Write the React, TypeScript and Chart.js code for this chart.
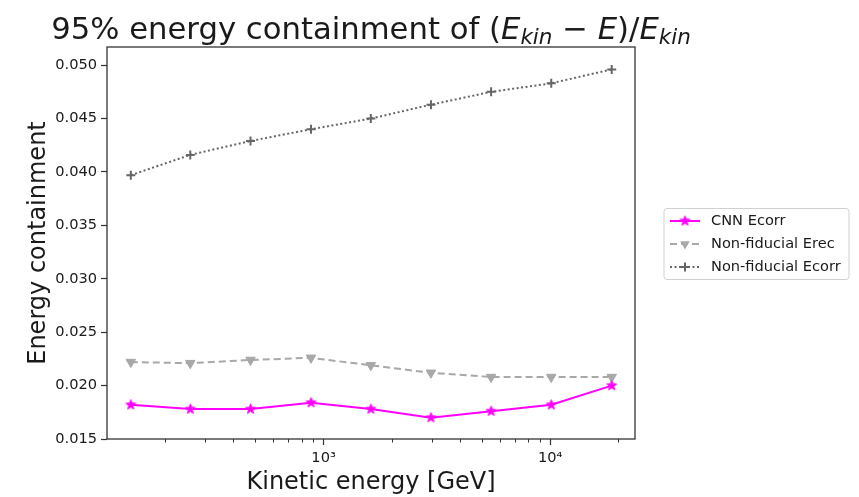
import React, { useEffect, useRef } from 'react';
import { Chart, registerables } from 'chart.js';

Chart.register(...registerables);

// Kinetic energy bin centres [GeV]
const energies = [141, 258, 476, 880, 1616, 2978, 5487, 10109, 18693];

// 95% containment of (E_kin - E)/E_kin for each reconstruction
const cnnEcorr = [0.0182, 0.0178, 0.0178, 0.0184, 0.0178, 0.0170, 0.0176, 0.0182, 0.0200];
const nonFiducialErec = [0.0222, 0.0221, 0.0224, 0.0226, 0.0219, 0.0212, 0.0208, 0.0208, 0.0208];
const nonFiducialEcorr = [0.0397, 0.0416, 0.0429, 0.0440, 0.0450, 0.0463, 0.0475, 0.0483, 0.0496];

const seriesLabels = ['CNN Ecorr', 'Non-fiducial Erec', 'Non-fiducial Ecorr'];

const yTicks = [0.015, 0.020, 0.025, 0.030, 0.035, 0.040, 0.045, 0.050];
const xMajorTicks = [1000, 10000];
const xMajorLabels = ['10³', '10⁴'];
const xMinorTicks = [200, 300, 400, 500, 600, 700, 800, 900, 2000, 3000, 4000, 5000, 6000, 7000, 8000, 9000, 20000];

const FONT = '"DejaVu Sans", "Liberation Sans", sans-serif';
const TEXT = '#1a1a1a';
const AXIS = '#333333';
const MAGENTA = '#ff00ff';
const LIGHT_GREY = '#a8a8a8';
const DARK_GREY = '#666666';

function makeStar(color: string, outer: number): HTMLCanvasElement {
  const inner = outer * 0.42;
  const size = Math.ceil(outer * 2 + 2);
  const c = document.createElement('canvas');
  c.width = size;
  c.height = size;
  const ctx = c.getContext('2d')!;
  const cx = size / 2;
  const cy = size / 2;
  ctx.beginPath();
  for (let i = 0; i < 10; i++) {
    const r = i % 2 === 0 ? outer : inner;
    const a = -Math.PI / 2 + (i * Math.PI) / 5;
    const px = cx + r * Math.cos(a);
    const py = cy + r * Math.sin(a);
    if (i === 0) ctx.moveTo(px, py);
    else ctx.lineTo(px, py);
  }
  ctx.closePath();
  ctx.fillStyle = color;
  ctx.fill();
  ctx.strokeStyle = color;
  ctx.lineWidth = 1;
  ctx.stroke();
  return c;
}

export default function App() {
  const canvasRef = useRef<HTMLCanvasElement | null>(null);

  useEffect(() => {
    const canvas = canvasRef.current;
    if (!canvas) return;
    const star = makeStar(MAGENTA, 5.2);

    const decor = {
      id: 'decor',
      afterDraw(chart: any) {
        const { ctx, chartArea } = chart;
        const { left, right, top, bottom } = chartArea;
        const xScale = chart.scales.x;
        ctx.save();

        // minor ticks on the log axis
        ctx.strokeStyle = AXIS;
        ctx.lineWidth = 1;
        for (const v of xMinorTicks) {
          const px = Math.round(xScale.getPixelForValue(v)) + 0.5;
          ctx.beginPath();
          ctx.moveTo(px, bottom);
          ctx.lineTo(px, bottom + 3.5);
          ctx.stroke();
        }

        // frame
        ctx.strokeStyle = AXIS;
        ctx.lineWidth = 1.3;
        ctx.strokeRect(left, top, right - left, bottom - top);

        // title with mathematical part
        const big = 30.7;
        const small = 21.5;
        const parts = [
          { t: '95% energy containment of (', f: `${big}px ${FONT}`, dy: 0 },
          { t: 'E', f: `italic ${big}px ${FONT}`, dy: 0 },
          { t: 'kin', f: `italic ${small}px ${FONT}`, dy: 5 },
          { t: ' − ', f: `${big}px ${FONT}`, dy: 0 },
          { t: 'E', f: `italic ${big}px ${FONT}`, dy: 0 },
          { t: ')/', f: `${big}px ${FONT}`, dy: 0 },
          { t: 'E', f: `italic ${big}px ${FONT}`, dy: 0 },
          { t: 'kin', f: `italic ${small}px ${FONT}`, dy: 5 },
        ];
        let total = 0;
        const widths = parts.map((p) => {
          ctx.font = p.f;
          const w = ctx.measureText(p.t).width;
          total += w;
          return w;
        });
        let tx = (left + right) / 2 - total / 2;
        const baseline = 38.5;
        ctx.fillStyle = TEXT;
        ctx.textBaseline = 'alphabetic';
        ctx.textAlign = 'left';
        parts.forEach((p, i) => {
          ctx.font = p.f;
          ctx.fillText(p.t, tx, baseline + p.dy);
          tx += widths[i];
        });

        // legend
        const lx = 664;
        const ly = 208.5;
        const lw = 185;
        const lh = 71;
        ctx.beginPath();
        const r = 3;
        ctx.moveTo(lx + r, ly);
        ctx.arcTo(lx + lw, ly, lx + lw, ly + lh, r);
        ctx.arcTo(lx + lw, ly + lh, lx, ly + lh, r);
        ctx.arcTo(lx, ly + lh, lx, ly, r);
        ctx.arcTo(lx, ly, lx + lw, ly, r);
        ctx.closePath();
        ctx.fillStyle = 'rgba(255,255,255,0.8)';
        ctx.fill();
        ctx.strokeStyle = '#d0d0d0';
        ctx.lineWidth = 1;
        ctx.stroke();

        const rows = [221, 244, 267];
        const hx0 = 670;
        const hx1 = 700;
        const hm = 685;
        // CNN Ecorr
        ctx.setLineDash([]);
        ctx.strokeStyle = MAGENTA;
        ctx.lineWidth = 2;
        ctx.beginPath();
        ctx.moveTo(hx0, rows[0]);
        ctx.lineTo(hx1, rows[0]);
        ctx.stroke();
        ctx.drawImage(star, hm - star.width / 2, rows[0] - star.height / 2);
        // Non-fiducial Erec
        ctx.strokeStyle = LIGHT_GREY;
        ctx.setLineDash([7, 4]);
        ctx.beginPath();
        ctx.moveTo(hx0, rows[1]);
        ctx.lineTo(hx1, rows[1]);
        ctx.stroke();
        ctx.setLineDash([]);
        ctx.fillStyle = LIGHT_GREY;
        ctx.beginPath();
        ctx.moveTo(hm - 4.7, rows[1] - 2.7);
        ctx.lineTo(hm + 4.7, rows[1] - 2.7);
        ctx.lineTo(hm, rows[1] + 5.4);
        ctx.closePath();
        ctx.fill();
        // Non-fiducial Ecorr
        ctx.strokeStyle = DARK_GREY;
        ctx.setLineDash([2, 2.5]);
        ctx.beginPath();
        ctx.moveTo(hx0, rows[2]);
        ctx.lineTo(hx1, rows[2]);
        ctx.stroke();
        ctx.setLineDash([]);
        ctx.beginPath();
        ctx.moveTo(hm - 4.5, rows[2]);
        ctx.lineTo(hm + 4.5, rows[2]);
        ctx.moveTo(hm, rows[2] - 4.5);
        ctx.lineTo(hm, rows[2] + 4.5);
        ctx.stroke();

        ctx.fillStyle = TEXT;
        ctx.font = `14.6px ${FONT}`;
        ctx.textBaseline = 'middle';
        seriesLabels.forEach((s, i) => ctx.fillText(s, 711, rows[i]));

        ctx.restore();
      },
    };

    const chart = new Chart(canvas, {
      type: 'line',
      data: {
        datasets: [
          {
            label: seriesLabels[0],
            data: energies.map((e, i) => ({ x: e, y: cnnEcorr[i] })),
            borderColor: MAGENTA,
            backgroundColor: MAGENTA,
            borderWidth: 2,
            pointStyle: star as any,
            pointRadius: 5,
            tension: 0,
          },
          {
            label: seriesLabels[1],
            data: energies.map((e, i) => ({ x: e, y: nonFiducialErec[i] })),
            borderColor: LIGHT_GREY,
            backgroundColor: LIGHT_GREY,
            borderWidth: 2,
            borderDash: [7, 4],
            pointStyle: 'triangle',
            pointRotation: 180,
            pointRadius: 5.5,
            pointBorderWidth: 1,
            tension: 0,
          },
          {
            label: seriesLabels[2],
            data: energies.map((e, i) => ({ x: e, y: nonFiducialEcorr[i] })),
            borderColor: DARK_GREY,
            backgroundColor: DARK_GREY,
            borderWidth: 2,
            borderDash: [2, 2.5],
            pointStyle: 'cross',
            pointRadius: 4.5,
            pointBorderWidth: 2,
            tension: 0,
          },
        ],
      },
      options: {
        responsive: false,
        animation: false,
        events: [],
        layout: { padding: { top: 47, right: 224, left: 0, bottom: 0 } },
        plugins: {
          legend: { display: false },
          title: { display: false },
          tooltip: { enabled: false },
        },
        scales: {
          x: {
            type: 'logarithmic',
            min: 110.7,
            max: 23680,
            afterFit: (s: any) => {
              s.height = 58;
            },
            afterBuildTicks: (s: any) => {
              s.ticks = xMajorTicks.map((v) => ({ value: v }));
            },
            ticks: {
              autoSkip: false,
              maxRotation: 0,
              padding: 4,
              color: TEXT,
              font: { family: FONT, size: 14.6 },
              callback: (v: any) => {
                const i = xMajorTicks.indexOf(Number(v));
                return i >= 0 ? xMajorLabels[i] : '';
              },
            },
            grid: {
              drawOnChartArea: false,
              drawTicks: true,
              tickLength: 6,
              tickColor: AXIS,
              tickWidth: 1.2,
            },
            border: { display: false },
            title: {
              display: true,
              text: 'Kinetic energy [GeV]',
              color: TEXT,
              font: { family: FONT, size: 24 },
              padding: { top: 0, bottom: 0 },
            },
          },
          y: {
            type: 'linear',
            min: 0.015,
            max: 0.0517,
            afterFit: (s: any) => {
              s.width = 107;
            },
            afterBuildTicks: (s: any) => {
              s.ticks = yTicks.map((v) => ({ value: v }));
            },
            ticks: {
              padding: 4,
              color: TEXT,
              font: { family: FONT, size: 14.6 },
              callback: (v: any) => Number(v).toFixed(3),
            },
            grid: {
              drawOnChartArea: false,
              drawTicks: true,
              tickLength: 6,
              tickColor: AXIS,
              tickWidth: 1.2,
            },
            border: { display: false },
            title: {
              display: true,
              text: 'Energy containment',
              color: TEXT,
              font: { family: FONT, size: 24 },
              padding: { top: 24, bottom: 0 },
            },
          },
        },
      },
      plugins: [decor],
    });

    return () => chart.destroy();
  }, []);

  return (
    <div style={{ position: 'absolute', left: 0, top: 0, width: 859, height: 497, background: '#fff' }}>
      <canvas ref={canvasRef} width={859} height={497} />
    </div>
  );
}
